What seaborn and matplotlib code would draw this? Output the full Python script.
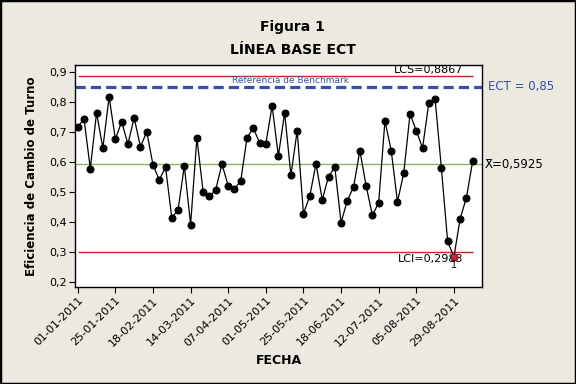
import matplotlib
matplotlib.use("Agg")
import matplotlib.pyplot as plt
import matplotlib.transforms as mtransforms
from matplotlib.patches import Rectangle
import seaborn as sns
import pandas as pd

# ---- data ----
observacion = list(range(1, 65))
eficiencia = [0.717, 0.743, 0.578, 0.764, 0.646, 0.817, 0.676, 0.734, 0.660, 0.747,
              0.650, 0.701, 0.590, 0.540, 0.583, 0.414, 0.440, 0.587, 0.391, 0.680,
              0.500, 0.485, 0.507, 0.593, 0.520, 0.510, 0.537, 0.681, 0.713, 0.664,
              0.660, 0.787, 0.620, 0.764, 0.555, 0.704, 0.428, 0.485, 0.594, 0.474,
              0.551, 0.583, 0.398, 0.471, 0.517, 0.638, 0.520, 0.422, 0.464, 0.737,
              0.638, 0.467, 0.563, 0.760, 0.704, 0.646, 0.797, 0.810, 0.580, 0.335,
              0.283, 0.411, 0.481, 0.604]
tick_pos = [1, 7, 13, 19, 25, 31, 37, 43, 49, 55, 61]
tick_labels = ["01-01-2011", "25-01-2011", "18-02-2011", "14-03-2011", "07-04-2011",
               "01-05-2011", "25-05-2011", "18-06-2011", "12-07-2011", "05-08-2011",
               "29-08-2011"]
ytick_vals = [0.2, 0.3, 0.4, 0.5, 0.6, 0.7, 0.8, 0.9]
ytick_labels = ["0,2", "0,3", "0,4", "0,5", "0,6", "0,7", "0,8", "0,9"]
lcs = 0.8867
lci = 0.2983
media = 0.5925
ect = 0.85
fuera_obs = [61]

df = pd.DataFrame({"obs": observacion, "ef": eficiencia})
df_out = df[df["obs"].isin(fuera_obs)]

# ---- figure ----
sns.set_style("white")
plt.rcParams["font.family"] = ["DejaVu Sans"]
plt.rcParams["text.color"] = "black"
plt.rcParams["axes.labelcolor"] = "black"
bg = "#ECE9E1"
fig = plt.figure(figsize=(5.76, 3.84), dpi=100, facecolor=bg)
ax = fig.add_axes([0.130, 0.2526, 0.707, 0.578])
ax.set_facecolor("white")

red = "#C0282D"
green = "#8AB55C"
blue = "#3A4FA3"

ax.axhline(media, color=green, lw=1.0, zorder=1)
ax.hlines([lcs, lci], 1, 64, color=red, lw=1.0, zorder=1)
ax.axhline(ect, color=blue, lw=2.3, ls=(0, (3.2, 1.6)), zorder=2)

sns.lineplot(data=df, x="obs", y="ef", ax=ax, color="black", lw=0.9,
             marker="o", markersize=5, markeredgecolor="black",
             markerfacecolor="black", zorder=3)
sns.scatterplot(data=df_out, x="obs", y="ef", ax=ax, color=red, marker="s",
                s=22, edgecolor=red, zorder=4)
for _, r in df_out.iterrows():
    ax.text(r["obs"], r["ef"] - 0.010, "1", ha="center", va="top", fontsize=7,
            color="black", zorder=5)

ax.set_xlim(0.54, 65.5)
ax.set_ylim(0.183, 0.923)
ax.set_xticks(tick_pos)
ax.set_xticklabels(tick_labels, rotation=45, ha="right", rotation_mode="anchor",
                   fontsize=8, color="black")
ax.set_yticks(ytick_vals)
ax.set_yticklabels(ytick_labels, fontsize=8, color="black")
ax.tick_params(axis="both", direction="out", length=4, width=0.8, colors="black",
               bottom=True, left=True, pad=2)
for s in ax.spines.values():
    s.set_color("black")
    s.set_linewidth(1.0)

ax.set_xlabel("FECHA", fontsize=9, fontweight="bold", labelpad=4)
ax.set_ylabel("Eficiencia de Cambio de Turno", fontsize=8.5, fontweight="bold",
              labelpad=8)

ax.text(62.5, lcs + 0.004, "LCS=0,8867", ha="right", va="bottom", fontsize=8)
ax.text(62.5, lci - 0.004, "LCI=0,2983", ha="right", va="top", fontsize=8)
ax.text(35, ect + 0.006, "Referencia de Benchmark", ha="center", va="bottom",
        fontsize=6.5, color=blue)

trans = mtransforms.blended_transform_factory(ax.transAxes, ax.transData)
ax.text(1.007, media, "X\u0304=0,5925", transform=trans, ha="left", va="center",
        fontsize=8.5, clip_on=False)
ax.text(1.015, ect, "ECT = 0,85", transform=trans, ha="left", va="center",
        fontsize=8.5, color=blue, clip_on=False)

fig.text(0.508, 0.930, "Figura 1", ha="center", va="center", fontsize=10,
         fontweight="bold")
fig.text(0.508, 0.870, "LÍNEA BASE ECT", ha="center", va="center", fontsize=10,
         fontweight="bold")

fig.patches.append(Rectangle((0, 0), 1, 1, transform=fig.transFigure, fill=False,
                             edgecolor="black", lw=2.5))

fig.savefig("out.png", dpi=100, facecolor=bg)
